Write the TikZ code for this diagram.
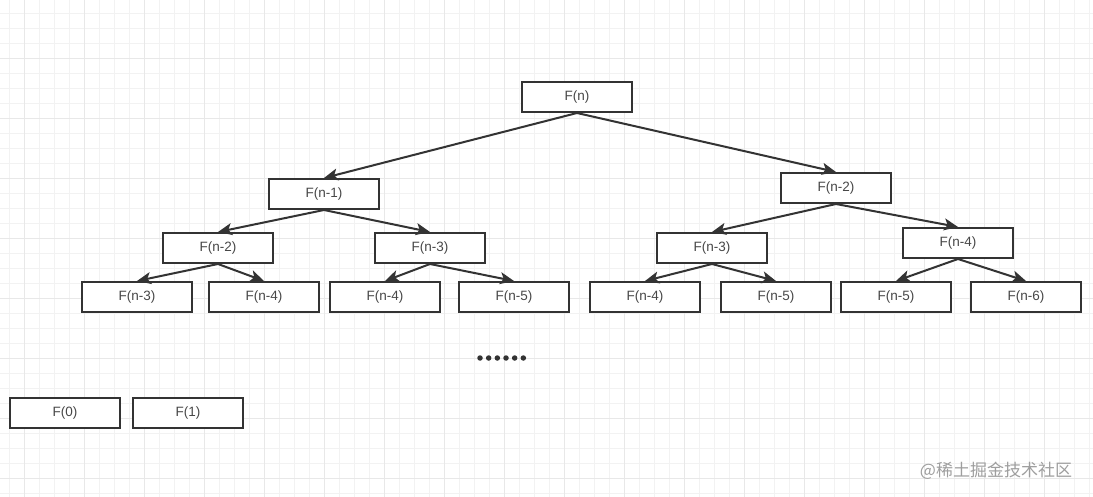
\documentclass[tikz,border=0pt]{standalone}
\usepackage{fontspec}
\setmainfont{Liberation Sans}
\newfontfamily\cjkfont{Noto Sans CJK SC}
\usetikzlibrary{arrows.meta}

\begin{document}
\begin{tikzpicture}[
    x=1pt, y=-1pt,
    >={Stealth[length=14pt,width=12pt,inset=3.5pt]},
    callbox/.style={
        draw=black!80,
        fill=white,
        line width=2pt,
        minimum width=110pt,
        minimum height=30pt,
        inner sep=0pt,
        text=black!72,
        font=\fontsize{13.5}{15}\selectfont
    },
    callarrow/.style={
        ->,
        draw=black!80,
        line width=2pt
    },
    minorgrid/.style={draw=black!5, line width=0.8pt},
    majorgrid/.style={draw=black!9, line width=0.8pt},
    dot/.style={circle, fill=black!80, inner sep=0pt, minimum size=5.5pt}
]

\useasboundingbox (0,0) rectangle (1093,497);

% Background grid
\fill[white] (0,0) rectangle (1093,497);
\foreach \k in {0,...,72} {
    \draw[minorgrid] (9+15*\k,0) -- (9+15*\k,497);
}
\foreach \k in {0,...,32} {
    \draw[minorgrid] (0,13.5+15*\k) -- (1093,13.5+15*\k);
}
\foreach \k in {0,...,18} {
    \draw[majorgrid] (24+60*\k,0) -- (24+60*\k,497);
}
\foreach \k in {0,...,7} {
    \draw[majorgrid] (0,58.5+60*\k) -- (1093,58.5+60*\k);
}

% Root
\node[callbox] (f_n) at (577,97) {F(n)};

% Level 1
\node[callbox] (f_n1) at (324,194) {F(n-1)};
\node[callbox] (f_n2) at (836,188) {F(n-2)};

% Level 2
\node[callbox] (f_n1_a) at (218,248) {F(n-2)};
\node[callbox] (f_n1_b) at (430,248) {F(n-3)};
\node[callbox] (f_n2_a) at (712,248) {F(n-3)};
\node[callbox] (f_n2_b) at (958,243) {F(n-4)};

% Level 3
\node[callbox] (f_n1_aa) at (137,297) {F(n-3)};
\node[callbox] (f_n1_ab) at (264,297) {F(n-4)};
\node[callbox] (f_n1_ba) at (385,297) {F(n-4)};
\node[callbox] (f_n1_bb) at (514,297) {F(n-5)};
\node[callbox] (f_n2_aa) at (645,297) {F(n-4)};
\node[callbox] (f_n2_ab) at (776,297) {F(n-5)};
\node[callbox] (f_n2_ba) at (896,297) {F(n-5)};
\node[callbox] (f_n2_bb) at (1026,297) {F(n-6)};

% Ellipsis
\foreach \i in {0,...,5} {
    \node[dot] (dot\i) at (480+8.67*\i,358) {};
}

% Base cases
\node[callbox] (f_0) at (65,413) {F(0)};
\node[callbox] (f_1) at (188,413) {F(1)};

% Connectors
\draw[callarrow] (f_n.south) -- (f_n1.north);
\draw[callarrow] (f_n.south) -- (f_n2.north);

\draw[callarrow] (f_n1.south) -- (f_n1_a.north);
\draw[callarrow] (f_n1.south) -- (f_n1_b.north);
\draw[callarrow] (f_n2.south) -- (f_n2_a.north);
\draw[callarrow] (f_n2.south) -- (f_n2_b.north);

\draw[callarrow] (f_n1_a.south) -- (f_n1_aa.north);
\draw[callarrow] (f_n1_a.south) -- (f_n1_ab.north);
\draw[callarrow] (f_n1_b.south) -- (f_n1_ba.north);
\draw[callarrow] (f_n1_b.south) -- (f_n1_bb.north);
\draw[callarrow] (f_n2_a.south) -- (f_n2_aa.north);
\draw[callarrow] (f_n2_a.south) -- (f_n2_ab.north);
\draw[callarrow] (f_n2_b.south) -- (f_n2_ba.north);
\draw[callarrow] (f_n2_b.south) -- (f_n2_bb.north);

% Watermark
\node[text=black!38, font=\cjkfont\fontsize{17}{19}\selectfont, inner sep=0pt] (mark) at (996,471) {@稀土掘金技术社区};

\end{tikzpicture}
\end{document}
